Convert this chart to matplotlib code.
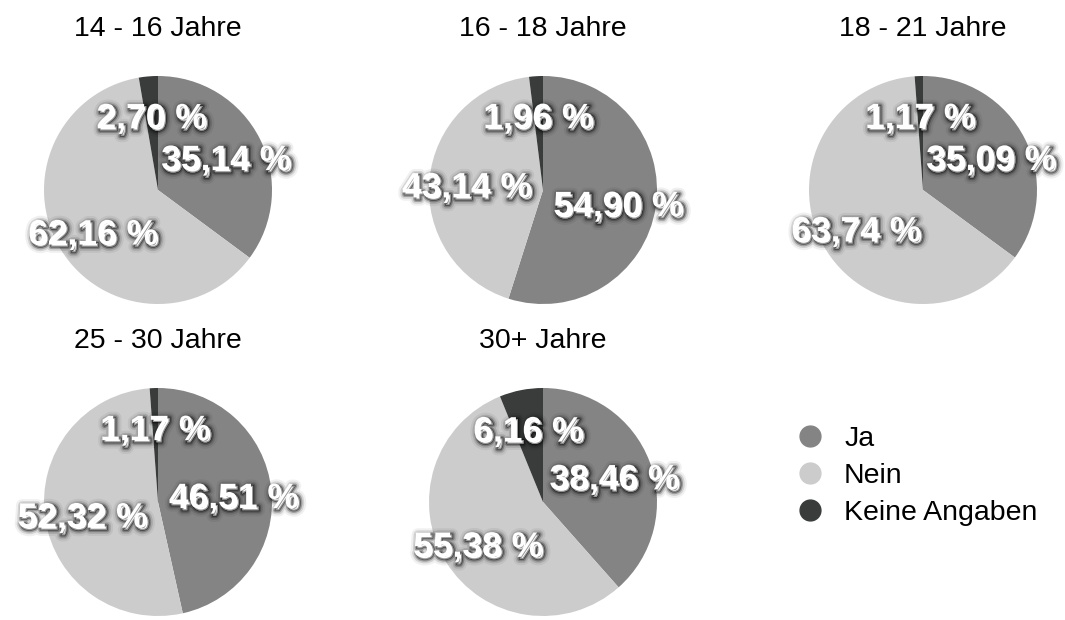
import matplotlib.pyplot as plt
import matplotlib.patheffects as pe
from matplotlib.lines import Line2D
from matplotlib.transforms import offset_copy

plt.rcParams['font.family'] = ['Liberation Sans', 'DejaVu Sans']

groups = ["14 - 16 Jahre", "16 - 18 Jahre", "18 - 21 Jahre", "25 - 30 Jahre", "30+ Jahre"]
categories = ["Ja", "Nein", "Keine Angaben"]
ja = [35.14, 54.90, 35.09, 46.51, 38.46]
nein = [62.16, 43.14, 63.74, 52.32, 55.38]
keine = [2.70, 1.96, 1.17, 1.17, 6.16]

colors = ["#848484", "#cbcccb", "#3a3c3c"]

W, H = 1065, 620
fig = plt.figure(figsize=(W / 100, H / 100), dpi=100)

# pie centres in pixels (x, y from top)
centres = [(158, 190), (543, 190), (923, 190), (158, 502), (543, 502)]
R = 114

# soft dark glow, faked with a few wide translucent strokes
shadow = [pe.Stroke(linewidth=9, foreground=(0, 0, 0, 0.06), offset=(1.5, -1.5)),
          pe.Stroke(linewidth=6, foreground=(0, 0, 0, 0.12), offset=(1.5, -1.5)),
          pe.Stroke(linewidth=3.5, foreground=(0, 0, 0, 0.25), offset=(1.5, -1.5)),
          pe.Stroke(linewidth=1.5, foreground=(0, 0, 0, 0.4), offset=(1.5, -1.5)),
          pe.Normal()]


def fmt(v):
    return f"{v:.2f} %".replace(".", ",")


for i, name in enumerate(groups):
    cx, cy = centres[i]
    ax = fig.add_axes([(cx - R) / W, (H - cy - R) / H, 2 * R / W, 2 * R / H])
    vals = [ja[i], nein[i], keine[i]]
    wedges, texts = ax.pie(vals, colors=colors, startangle=90, counterclock=False,
                           labels=[fmt(v) for v in vals], labeldistance=0.67,
                           wedgeprops=dict(linewidth=0),
                           textprops=dict(color="white", fontsize=25.5, fontweight="bold",
                                          ha="center", va="center"))
    for t in texts:
        t.set_horizontalalignment("center")
        t.set_transform(offset_copy(ax.transData, fig=fig, x=0, y=-5, units="dots"))
        t.set_path_effects(shadow)
    ax.set_xlim(-1, 1)
    ax.set_ylim(-1, 1)
    ax.set_aspect("equal")
    ax.axis("off")
    fig.text(cx / W, 1 - (cy - 161) / H, name, ha="center", va="center", fontsize=20.5)

handles = [Line2D([], [], marker="o", linestyle="none", markersize=15,
                  markerfacecolor=c, markeredgecolor=c) for c in colors]
fig.legend(handles, categories, loc="upper left", bbox_to_anchor=(770 / W, 1 - 400 / H),
           frameon=False, fontsize=20.5, labelspacing=0.4, handlelength=1.0,
           handletextpad=0.7)

fig.savefig("out.png", dpi=100)
